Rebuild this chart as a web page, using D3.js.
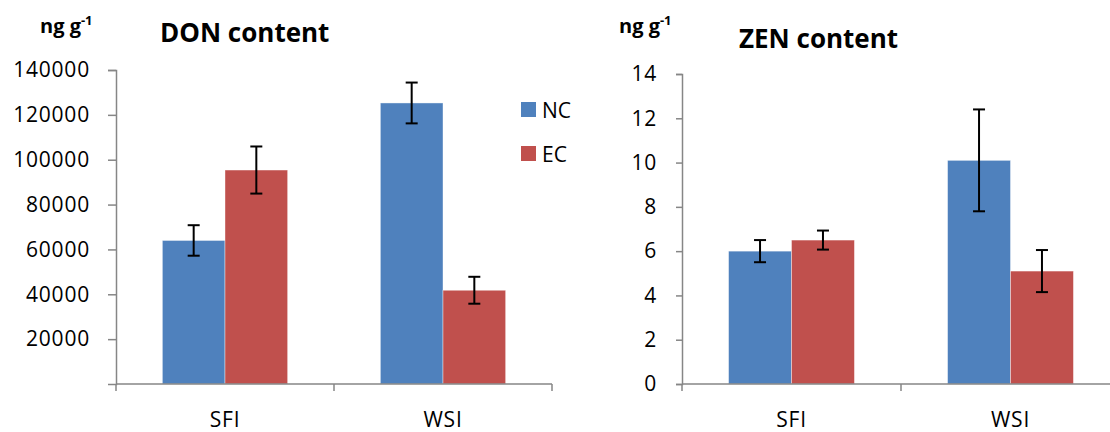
<!DOCTYPE html>
<html>
<head>
<meta charset="utf-8">
<script src="https://cdn.jsdelivr.net/npm/d3@7"></script>
<style>
  body { margin: 0; background: #fff; }
  text { font-family: 'Open Sans', sans-serif; fill: #000; }
  .axis path, .axis line { stroke: #868686; stroke-width: 1.5; }
  .axis text { font-size: 21px; font-family: 'Open Sans', sans-serif; letter-spacing: 0.8px; }
</style>
</head>
<body>
<div id="chart"></div>
<script>
// data
const sites = ['SFI', 'WSI']
const groups = ['NC', 'EC']
const donValues = { NC: [64000, 125300], EC: [95400, 41800] }
const donErrors = { NC: [6800, 9100], EC: [10500, 6000] }
const zenValues = { NC: [6.0, 10.1], EC: [6.5, 5.1] }
const zenErrors = { NC: [0.5, 2.3], EC: [0.43, 0.95] }
const donTicks = [20000, 40000, 60000, 80000, 100000, 120000, 140000]
const zenTicks = [0, 2, 4, 6, 8, 10, 12, 14]

const colors = { NC: '#4F81BD', EC: '#C0504D' }

const svg = d3.select('#chart').append('svg')
    .attr('width', 1110)
    .attr('height', 432)

function drawPanel (opt) {
    let g = svg.append('g')

    let x = d3.scaleBand()
        .domain(sites)
        .range([opt.left, opt.right])

    let inner = d3.scaleBand()
        .domain(groups)
        .range([0, x.bandwidth()])
        .paddingOuter(0.74)
        .paddingInner(0)

    let y = d3.scaleLinear()
        .domain([0, opt.max])
        .range([384, opt.top])

    // bars
    groups.forEach((grp) => {
        g.append('g').selectAll()
            .data(sites)
            .enter()
            .append('rect')
            .attr('x', (s) => x(s) + inner(grp))
            .attr('y', (s, i) => y(opt.values[grp][i]))
            .attr('width', inner.bandwidth())
            .attr('height', (s, i) => 384 - y(opt.values[grp][i]))
            .style('fill', colors[grp])
            .style('stroke', '#fff')
            .style('stroke-opacity', 0.5)
            .style('stroke-width', 0.8)
    })

    // error bars
    groups.forEach((grp) => {
        let eb = g.append('g').selectAll()
            .data(sites)
            .enter()
            .append('g')
        let cx = (s) => x(s) + inner(grp) + inner.bandwidth() / 2
        let hi = (s, i) => y(opt.values[grp][i] + opt.errors[grp][i])
        let lo = (s, i) => y(opt.values[grp][i] - opt.errors[grp][i])
        eb.append('line')
            .attr('x1', cx).attr('x2', cx)
            .attr('y1', hi).attr('y2', lo)
            .style('stroke', '#000').style('stroke-width', 2)
        eb.append('line')
            .attr('x1', (s) => cx(s) - 6).attr('x2', (s) => cx(s) + 6)
            .attr('y1', hi).attr('y2', hi)
            .style('stroke', '#000').style('stroke-width', 2)
        eb.append('line')
            .attr('x1', (s) => cx(s) - 6).attr('x2', (s) => cx(s) + 6)
            .attr('y1', lo).attr('y2', lo)
            .style('stroke', '#000').style('stroke-width', 2)
    })

    // y axis
    g.append('g').attr('class', 'axis')
        .attr('transform', 'translate(' + opt.left + ',0)')
        .call(d3.axisLeft(y).tickValues(opt.ticks).tickFormat(d3.format('d'))
            .tickSize(opt.tick).tickPadding(opt.pad).tickSizeOuter(opt.tick))

    // x axis (ticks on band edges)
    let xa = g.append('g').attr('class', 'axis')
        .attr('transform', 'translate(0,384)')
    xa.append('line')
        .attr('x1', opt.left).attr('x2', opt.right)
        .attr('y1', 0).attr('y2', 0)
    let edges = sites.map((s) => x(s)).concat([opt.right])
    xa.selectAll('.edge')
        .data(edges)
        .enter()
        .append('line')
        .attr('x1', (d) => d).attr('x2', (d) => d)
        .attr('y1', 0).attr('y2', 7)
    xa.selectAll('.lbl')
        .data(sites)
        .enter()
        .append('text')
        .attr('x', (s) => x(s) + x.bandwidth() / 2)
        .attr('y', 43)
        .attr('text-anchor', 'middle')
        .text((s) => s)

    // unit label
    let unit = g.append('text')
        .attr('x', opt.unitX)
        .attr('y', 33)
        .style('font-size', '20px')
        .style('font-weight', 'bold')
    unit.append('tspan').text('ng g')
    unit.append('tspan').attr('dy', -8).style('font-size', '13px').text('-1')

    // title
    g.append('text')
        .attr('x', opt.titleX)
        .attr('y', opt.titleY)
        .style('font-size', '26px')
        .style('font-weight', 'bold')
        .text(opt.title)
}

drawPanel({
    left: 116, right: 552, top: 70, max: 140000,
    values: donValues, errors: donErrors, ticks: donTicks, tick: 8, pad: 18,
    unitX: 40, title: 'DON content', titleX: 160, titleY: 42
})

drawPanel({
    left: 682, right: 1120, top: 74, max: 14,
    values: zenValues, errors: zenErrors, ticks: zenTicks, tick: 6, pad: 19,
    unitX: 619, title: 'ZEN content', titleX: 739, titleY: 48
})

// legend
let legend = svg.append('g')
groups.forEach((grp, i) => {
    legend.append('rect')
        .attr('x', 521).attr('y', 102 + i * 44)
        .attr('width', 15).attr('height', 15)
        .style('fill', colors[grp])
    legend.append('text')
        .attr('x', 542).attr('y', 118 + i * 44)
        .style('font-size', '21px')
        .text(grp)
})
</script>
</body>
</html>
